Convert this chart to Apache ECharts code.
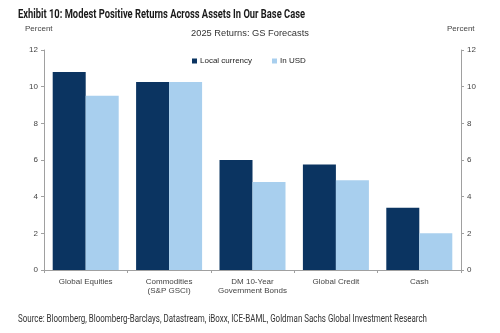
<!DOCTYPE html>
<html><head><meta charset="utf-8">
<script src="https://cdn.jsdelivr.net/npm/echarts@6/dist/echarts.min.js"></script>
<style>html,body{margin:0;padding:0;background:#fff}#c{width:500px;height:333px}</style>
</head><body><div id="c"></div>
<script>
var categories = ['Global Equities', 'Commodities\n(S&P GSCI)', 'DM 10-Year\nGovernment Bonds', 'Global Credit', 'Cash'];
var localCurrency = [10.8, 10.25, 6.0, 5.75, 3.4];
var inUSD = [9.5, 10.25, 4.8, 4.9, 2.0];
var seriesNames = ['Local currency', 'In USD'];
var titleText = 'Exhibit 10: Modest Positive Returns Across Assets In Our Base Case';
var sourceText = 'Source: Bloomberg, Bloomberg-Barclays, Datastream, iBoxx, ICE-BAML, Goldman Sachs Global Investment Research';

function fitScale(text, font, target) {
  var ctx = document.createElement('canvas').getContext('2d');
  ctx.font = font;
  return target / ctx.measureText(text).width;
}
var titleFont = 'bold 13px Roboto';
var srcFont = '10px Roboto';
var titleScale = fitScale(titleText, titleFont, 287);
var srcScale = fitScale(sourceText, srcFont, 409);

var chart = echarts.init(document.getElementById('c'), null, {renderer: 'canvas'});
var axisLbl = {color: '#444', fontSize: 8, fontFamily: 'Liberation Sans, Arial, sans-serif'};
var yAx = function (pos) {
  return {
    type: 'value', position: pos, min: 0, max: 12, interval: 2,
    axisLine: {show: true, lineStyle: {color: '#a0a0a0', width: 1}},
    axisTick: {show: true, length: 3, lineStyle: {color: '#a0a0a0'}},
    splitLine: {show: false},
    axisLabel: Object.assign({margin: 6}, axisLbl)
  };
};
var small = {fontFamily: 'Liberation Sans, Arial, sans-serif', fontWeight: 'normal', fontSize: 8, color: '#444'};
chart.setOption({
  animation: false,
  title: [
    {text: '2025 Returns: GS Forecasts', left: 'center', top: 29, padding: 0,
      textStyle: {fontFamily: 'Liberation Sans, Arial, sans-serif', fontWeight: 'normal', fontSize: 9.3, color: '#333'}},
    {text: 'Percent', left: 25, top: 25, padding: 0, textStyle: small},
    {text: 'Percent', left: 447, top: 25, padding: 0, textStyle: small}
  ],
  graphic: [
    {type: 'text', left: 18, top: 8, scaleX: titleScale, originX: 0,
      style: {text: titleText, font: titleFont, fill: '#1a1a1a'}},
    {type: 'text', left: 18, top: 314, scaleX: srcScale, originX: 0,
      style: {text: sourceText, font: srcFont, fill: '#333'}}
  ],
  legend: {
    data: seriesNames, left: 192, top: 57, itemWidth: 5, itemHeight: 5, itemGap: 20, icon: 'rect', padding: 0,
    textStyle: {color: '#222', fontSize: 8, fontFamily: 'Liberation Sans, Arial, sans-serif', padding: [0, 0, 0, -2]}
  },
  grid: {left: 44, right: 39, top: 50, bottom: 63},
  xAxis: {
    type: 'category', data: categories,
    axisLine: {lineStyle: {color: '#a0a0a0'}},
    axisTick: {show: true, length: 3, lineStyle: {color: '#a0a0a0'}},
    axisLabel: Object.assign({margin: 7, interval: 0, lineHeight: 9}, axisLbl)
  },
  yAxis: [yAx('left'), yAx('right')],
  series: [
    {name: seriesNames[0], type: 'bar', data: localCurrency, barWidth: 33, barGap: '0%', itemStyle: {color: '#0b3461'}},
    {name: seriesNames[1], type: 'bar', data: inUSD, barWidth: 33, barGap: '0%', itemStyle: {color: '#a8cfee'}}
  ]
});
</script></body></html>
